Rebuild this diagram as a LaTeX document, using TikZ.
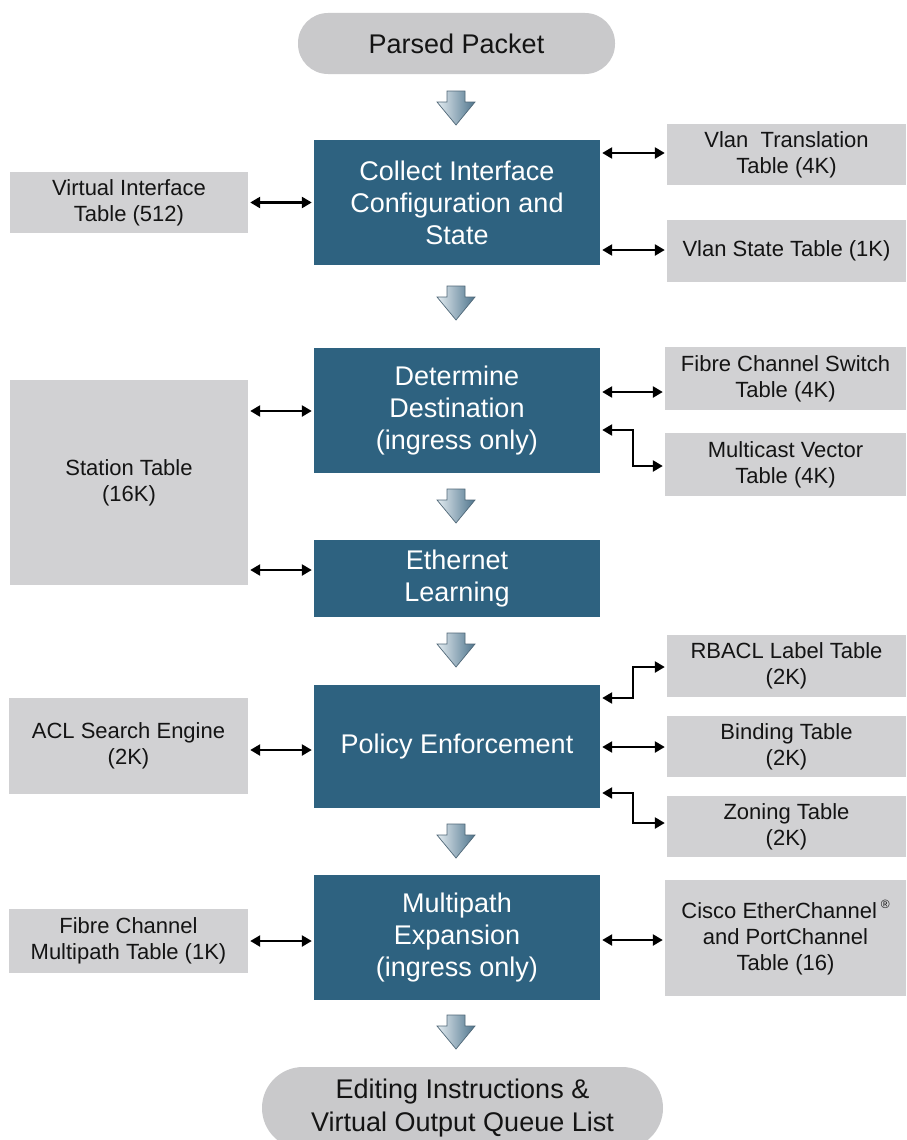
\documentclass[tikz,border=0pt]{standalone}
\usepackage{fontspec}
\setmainfont{Liberation Sans}
\usetikzlibrary{arrows.meta}
\definecolor{boxblue}{RGB}{46,98,128}
\definecolor{tblgray}{RGB}{209,209,211}
\definecolor{ovalgray}{RGB}{201,201,203}
\definecolor{txtdark}{RGB}{20,20,20}
\definecolor{arrlight}{RGB}{228,236,241}
\definecolor{arrdark}{RGB}{78,116,140}
\definecolor{arredge}{RGB}{80,104,120}
\tikzset{
  mainbox/.style={rectangle, fill=boxblue, text=white, minimum width=286pt, align=center,
    font=\fontsize{27}{32}\selectfont, inner sep=0pt},
  tbl/.style={rectangle, fill=tblgray, text=txtdark, align=center,
    font=\fontsize{22}{26}\selectfont, inner sep=0pt},
  oval/.style={rectangle, fill=ovalgray, text=txtdark, align=center,
    font=\fontsize{27}{33}\selectfont, inner sep=0pt},
  conn/.style={line width=2.4pt, black, <->, >={Triangle[length=10pt,width=11pt]},
    shorten <=2pt, shorten >=2pt, line join=miter},
  blk/.pic={\draw[line width=0.7pt, draw=arredge, left color=arrlight, right color=arrdark]
    (-9,-17) -- (9,-17) -- (9,-6) -- (19,-6) -- (0,17) -- (-19,-6) -- (-9,-6) -- cycle;}
}
\begin{document}
\begin{tikzpicture}[x=1pt,y=-1pt]
\useasboundingbox (0,0) rectangle (906,1140);
\clip (0,0) rectangle (906,1140);
\fill[white] (0,0) rectangle (906,1140);

% terminals
\node[oval, minimum width=317pt, minimum height=61pt, rounded corners=30pt] (pp) at (456.5,43.5) {Parsed Packet};
\node[oval, minimum width=401pt, minimum height=82pt, rounded corners=41pt] (eo) at (462.5,1108) {Editing Instructions \&\\Virtual Output Queue List};

% main stages
\node[mainbox, minimum height=125pt] (cc) at (457,202.5) {Collect Interface\\Configuration and\\State};
\node[mainbox, minimum height=125pt] (dd) at (457,410.5) {Determine\\Destination\\(ingress only)};
\node[mainbox, minimum height=77pt] (el) at (457,578.5) {Ethernet\\Learning};
\node[mainbox, minimum height=123pt] (pe) at (457,746.5) {Policy Enforcement};
\node[mainbox, minimum height=125pt] (mp) at (457,937.5) {Multipath\\Expansion\\(ingress only)};

% left tables
\node[tbl, minimum width=238pt, minimum height=61pt] (vit) at (129,202.5) {Virtual Interface\\Table (512)};
\node[tbl, minimum width=238pt, minimum height=205pt] (st) at (129,482.5) {Station Table\\(16K)};
\node[tbl, minimum width=239pt, minimum height=96pt] (acl) at (128.5,746) {ACL Search Engine\\(2K)};
\node[tbl, minimum width=239pt, minimum height=64pt] (fcm) at (128.5,941) {Fibre Channel\\Multipath Table (1K)};

% right tables
\node[tbl, minimum width=239pt, minimum height=61pt] (vt) at (786.5,154.5) {Vlan\ \ Translation\\Table (4K)};
\node[tbl, minimum width=239pt, minimum height=62pt] (vs) at (786.5,251) {Vlan State Table (1K)};
\node[tbl, minimum width=241pt, minimum height=63pt] (fcs) at (785.5,378.5) {Fibre Channel Switch\\Table (4K)};
\node[tbl, minimum width=241pt, minimum height=63pt] (mv) at (785.5,464.5) {Multicast Vector\\Table (4K)};
\node[tbl, minimum width=239pt, minimum height=62pt] (rb) at (786.5,666) {RBACL Label Table\\(2K)};
\node[tbl, minimum width=239pt, minimum height=61pt] (bt) at (786.5,746.5) {Binding Table\\(2K)};
\node[tbl, minimum width=239pt, minimum height=61pt] (zt) at (786.5,826.5) {Zoning Table\\(2K)};
\node[tbl, minimum width=241pt, minimum height=116pt] (ce) at (785.5,938) {Cisco EtherChannel\,\raisebox{0.45em}{\fontsize{12}{12}\selectfont\textregistered}\\and PortChannel\\Table (16)};

% flow arrows
\pic at (456,108) {blk};
\pic at (456,303) {blk};
\pic at (456,506) {blk};
\pic at (456,650) {blk};
\pic at (456,841) {blk};
\pic at (456,1032) {blk};

% left connectors
\draw[conn] (vit.east) -- (vit.east -| cc.west);
\draw[conn] (st.east |- 0,411) -- (dd.west |- 0,411);
\draw[conn] (st.east |- 0,570) -- (el.west |- 0,570);
\draw[conn] (acl.east |- 0,750) -- (pe.west |- 0,750);
\draw[conn] (fcm.east) -- (fcm.east -| mp.west);

% right connectors
\draw[conn] (cc.east |- 0,153) -- (vt.west |- 0,153);
\draw[conn] (cc.east |- 0,250) -- (vs.west |- 0,250);
\draw[conn] (dd.east |- 0,392) -- (fcs.west |- 0,392);
\draw[conn] (dd.east |- 0,430) -- (633,430) |- (mv.west |- 0,466);
\draw[conn] (pe.east |- 0,698) -- (633,698) |- (rb.west |- 0,667);
\draw[conn] (pe.east |- 0,747) -- (bt.west |- 0,747);
\draw[conn] (pe.east |- 0,793) -- (633,793) |- (zt.west |- 0,823);
\draw[conn] (mp.east |- 0,940) -- (ce.west |- 0,940);
\end{tikzpicture}
\end{document}
